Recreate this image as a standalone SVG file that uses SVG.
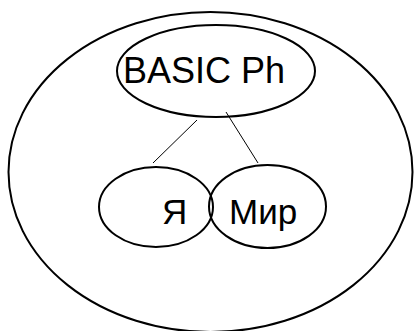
<svg xmlns="http://www.w3.org/2000/svg" width="414" height="331" viewBox="0 0 414 331">
<style>
.node ellipse{fill:none;stroke:#000;stroke-width:2}
.lbl{font-family:"Liberation Sans",Arial,sans-serif;fill:#000}
.conn line{stroke:#000;stroke-width:1}
</style>
<rect width="414" height="331" fill="#fff"/>
<g id="outer" class="node"><ellipse cx="210.5" cy="172" rx="202" ry="160"/></g>
<g id="basic" class="node"><ellipse cx="216" cy="71" rx="99" ry="46"/><text class="lbl" x="123" y="83" font-size="36">BASIC Ph</text></g>
<g id="ya" class="node"><ellipse cx="156" cy="207" rx="57" ry="40"/><text class="lbl" x="162" y="224" font-size="35">Я</text></g>
<g id="mir" class="node"><ellipse cx="267.5" cy="206.5" rx="58.5" ry="41.5"/><text class="lbl" x="229" y="224" font-size="35">Мир</text></g>
<g id="connectors" class="conn">
<line x1="197" y1="120" x2="153" y2="163"/>
<line x1="226" y1="112" x2="258" y2="163"/>
</g>
</svg>
